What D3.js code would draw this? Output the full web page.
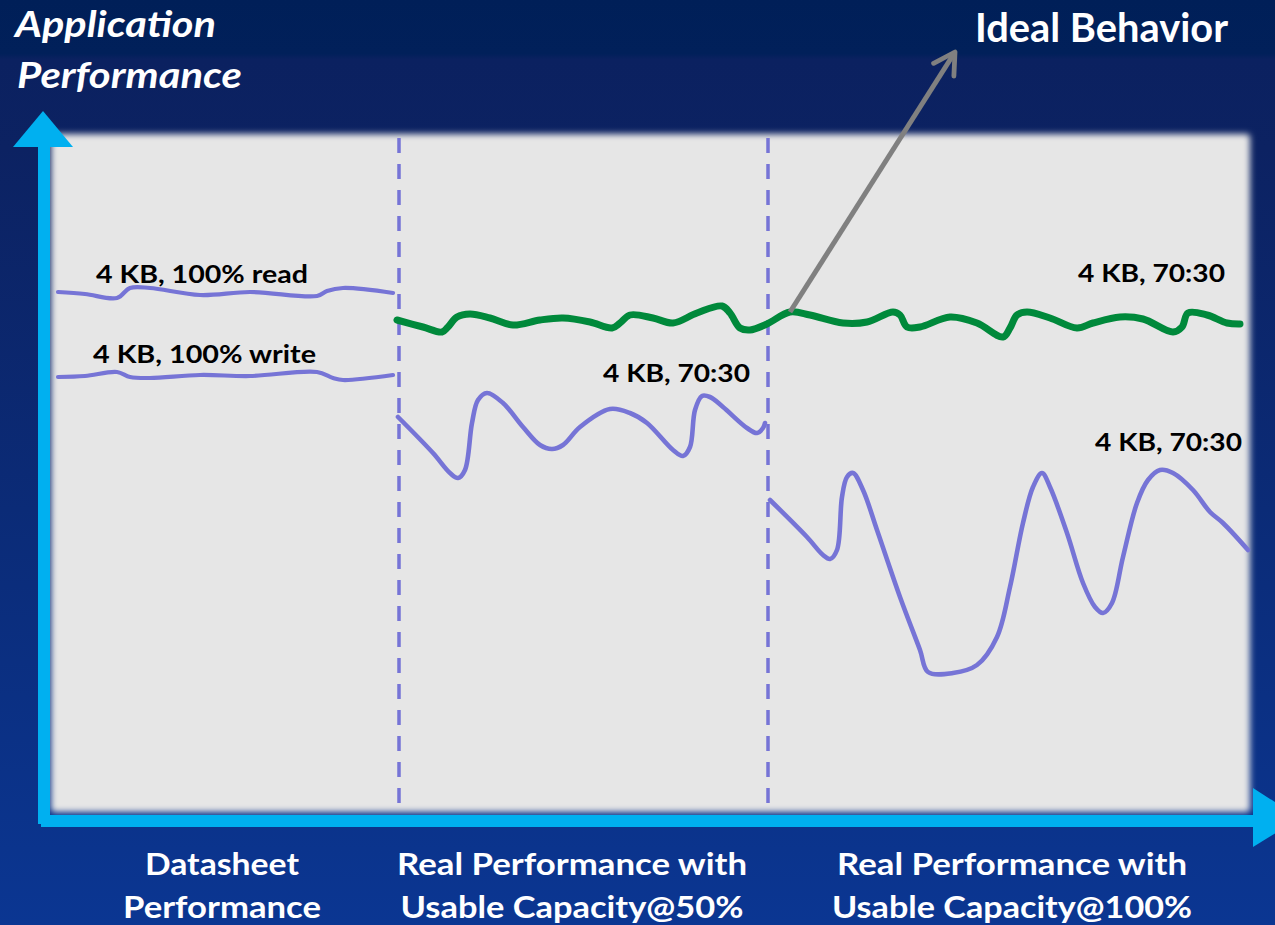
<!DOCTYPE html>
<html><head><meta charset="utf-8">
<script src="https://cdn.jsdelivr.net/npm/d3@7"></script>
<style>html,body{margin:0;padding:0;background:#0b2a72;overflow:hidden}svg{display:block}</style>
</head><body>
<script>
// ---- data (x: time units, y: performance units) ----
const readX  = [8, 35, 67, 80, 100, 150, 200, 267, 277, 293, 343];
const readY  = [526, 524, 520, 530, 530, 523, 526, 522, 527, 530, 525];
const writeX = [8, 35, 67, 80, 100, 150, 200, 267, 283, 293, 343];
const writeY = [441, 442, 446, 441, 440, 443, 442, 446, 440, 438, 443];
const idealX = [347,373,392,398,407,420,440,463,490,513,540,562,570,580,603,623,647,672,680,690,700,717,740,760,793,817,843,850,857,870,900,927,953,960,967,977,1000,1027,1043,1070,1093,1123,1132,1138,1157,1177,1190];
const idealY = [498,491,486,491,501,504,500,493,498,500,496,490,495,503,500,495,505,512,505,490,488,494,506,503,495,496,506,503,491,491,501,495,481,490,503,506,500,490,495,501,499,486,491,505,503,495,494];
const half50X = [348,383,400,408,415,422,428,437,453,473,490,502,513,530,560,580,597,623,633,640,645,652,660,673,697,707,713,715];
const half50Y = [401,365,345,340,348,395,418,425,415,391,373,369,373,391,409,405,395,368,362,371,408,422,421,411,390,385,390,395];
const full100X = [720,757,773,780,787,792,797,803,813,827,850,870,878,903,927,947,960,973,983,992,1000,1017,1033,1045,1053,1062,1073,1087,1098,1110,1123,1143,1160,1173,1198];
const full100Y = [318,281,263,259,268,321,341,345,328,288,221,168,146,145,153,181,231,295,331,345,331,285,235,211,205,215,261,315,338,348,345,328,306,295,268];
const segmentBounds = [349, 718];
const categories = [["Datasheet","Performance"],["Real Performance with","Usable Capacity@50%"],["Real Performance with","Usable Capacity@100%"]];
const categoryCenters = [172, 522, 962];
const seriesLabels = [
  {text:"4 KB, 100% read", x:46, y:535},
  {text:"4 KB, 100% write", x:43, y:455},
  {text:"4 KB, 70:30", x:553, y:436},
  {text:"4 KB, 70:30", x:1028, y:536},
  {text:"4 KB, 70:30", x:1045, y:367}
];
const labelWidths = [212, 223, 147, 147, 147];
const idealPointer = {from:[740, 506], to:[905, 766]};

// ---- layout ----
const W = 1275, H = 925;
const x = d3.scaleLinear().domain([0, 1200]).range([50, 1250]);
const y = d3.scaleLinear().domain([0, 680]).range([818, 138]);
const purple = "#7674d6", green = "#00893b", cyan = "#00b0f0";
const font = "Lato, 'Open Sans', 'Noto Sans', sans-serif";

const svg = d3.select("body").append("svg").attr("width", W).attr("height", H);
const defs = svg.append("defs");
const bg = defs.append("linearGradient").attr("id","bg").attr("x1",0).attr("y1",0).attr("x2",0).attr("y2",1);
[[0,"#001f58"],[0.058,"#01205a"],[0.064,"#0b2160"],[0.16,"#0c2262"],[0.55,"#0b2b77"],[1,"#0b3692"]]
  .forEach(([o,c]) => bg.append("stop").attr("offset",o).attr("stop-color",c));
defs.append("filter").attr("id","soft").attr("x","-5%").attr("y","-5%").attr("width","110%").attr("height","110%")
  .append("feGaussianBlur").attr("stdDeviation",3);
defs.append("marker").attr("id","chev").attr("viewBox","0 0 20 20").attr("refX",17).attr("refY",10)
  .attr("markerWidth",6).attr("markerHeight",6).attr("markerUnits","strokeWidth").attr("orient","auto")
  .append("path").attr("d","M3,2 L17,10 L3,18").attr("fill","none").attr("stroke","#808080")
  .attr("stroke-width",3.2).attr("stroke-linecap","round").attr("stroke-linejoin","round");

svg.append("rect").attr("width",W).attr("height",H).attr("fill","url(#bg)");

// panel
svg.append("rect").attr("x",x(1)).attr("y",y(684)).attr("width",x(1200)-x(1)).attr("height",y(6)-y(684))
  .attr("rx",4).attr("fill","#e6e6e6").attr("filter","url(#soft)");

// dividers
svg.selectAll("line.div").data(segmentBounds).join("line").attr("class","div")
  .attr("x1",d=>x(d)).attr("x2",d=>x(d)).attr("y1",y(680)).attr("y2",y(6))
  .attr("stroke",purple).attr("stroke-width",3.5).attr("stroke-dasharray","15,11");

// lines
const line = d3.line().x(d=>x(d[0])).y(d=>y(d[1])).curve(d3.curveCatmullRom.alpha(0.5));
const series = [
  {xs:readX, ys:readY, c:purple, w:4.2},
  {xs:writeX, ys:writeY, c:purple, w:4.2},
  {xs:half50X, ys:half50Y, c:purple, w:4.6},
  {xs:full100X, ys:full100Y, c:purple, w:4.6},
  {xs:idealX, ys:idealY, c:green, w:7}
];
svg.selectAll("path.series").data(series).join("path").attr("class","series")
  .attr("d", s => line(s.xs.map((v,i)=>[v, s.ys[i]])))
  .attr("fill","none").attr("stroke",s=>s.c).attr("stroke-width",s=>s.w)
  .attr("stroke-linecap","round").attr("stroke-linejoin","round");

// pointer arrow
svg.append("line").attr("x1",x(idealPointer.from[0])).attr("y1",y(idealPointer.from[1]))
  .attr("x2",x(idealPointer.to[0])).attr("y2",y(idealPointer.to[1]))
  .attr("stroke","#808080").attr("stroke-width",5).attr("marker-end","url(#chev)");

// series labels
svg.selectAll("text.sl").data(seriesLabels).join("text").attr("class","sl")
  .attr("x",d=>x(d.x)).attr("y",d=>y(d.y)).text(d=>d.text)
  .attr("textLength",(d,i)=>labelWidths[i]).attr("lengthAdjust","spacingAndGlyphs")
  .attr("font-family",font).attr("font-weight",700).attr("font-size",25).attr("fill","#000");

// axes
svg.append("rect").attr("x",38).attr("y",145).attr("width",12).attr("height",679).attr("fill",cyan);
svg.append("rect").attr("x",41).attr("y",815).attr("width",1215).attr("height",12).attr("fill",cyan);
svg.append("path").attr("d","M13,147 L73,147 L43,111 Z").attr("fill",cyan);
svg.append("path").attr("d","M1253,788 L1253,847 L1300,818 Z").attr("fill",cyan);

// titles
svg.append("text").attr("x",15).attr("y",37).text("Application").attr("textLength",201).attr("lengthAdjust","spacingAndGlyphs")
  .attr("font-family",font).attr("font-weight",700).attr("font-style","italic").attr("font-size",37).attr("fill","#fff");
svg.append("text").attr("x",17).attr("y",88).text("Performance").attr("textLength",225).attr("lengthAdjust","spacingAndGlyphs")
  .attr("font-family",font).attr("font-weight",700).attr("font-style","italic").attr("font-size",37).attr("fill","#fff");
svg.append("text").attr("x",975).attr("y",42).text("Ideal Behavior").attr("textLength",253).attr("lengthAdjust","spacingAndGlyphs")
  .attr("font-family",font).attr("font-weight",700).attr("font-size",40).attr("fill","#fff");

// category labels
const catWidths = [[154,198],[350,343],[350,360]];
categories.forEach((lines,i) => {
  lines.forEach((t,j) => {
    svg.append("text").attr("x",x(categoryCenters[i])).attr("y",875+j*43).attr("text-anchor","middle")
      .text(t).attr("textLength",catWidths[i][j]).attr("lengthAdjust","spacingAndGlyphs")
      .attr("font-family",font).attr("font-weight",700).attr("font-size",30).attr("fill","#fff");
  });
});
</script>
</body></html>
